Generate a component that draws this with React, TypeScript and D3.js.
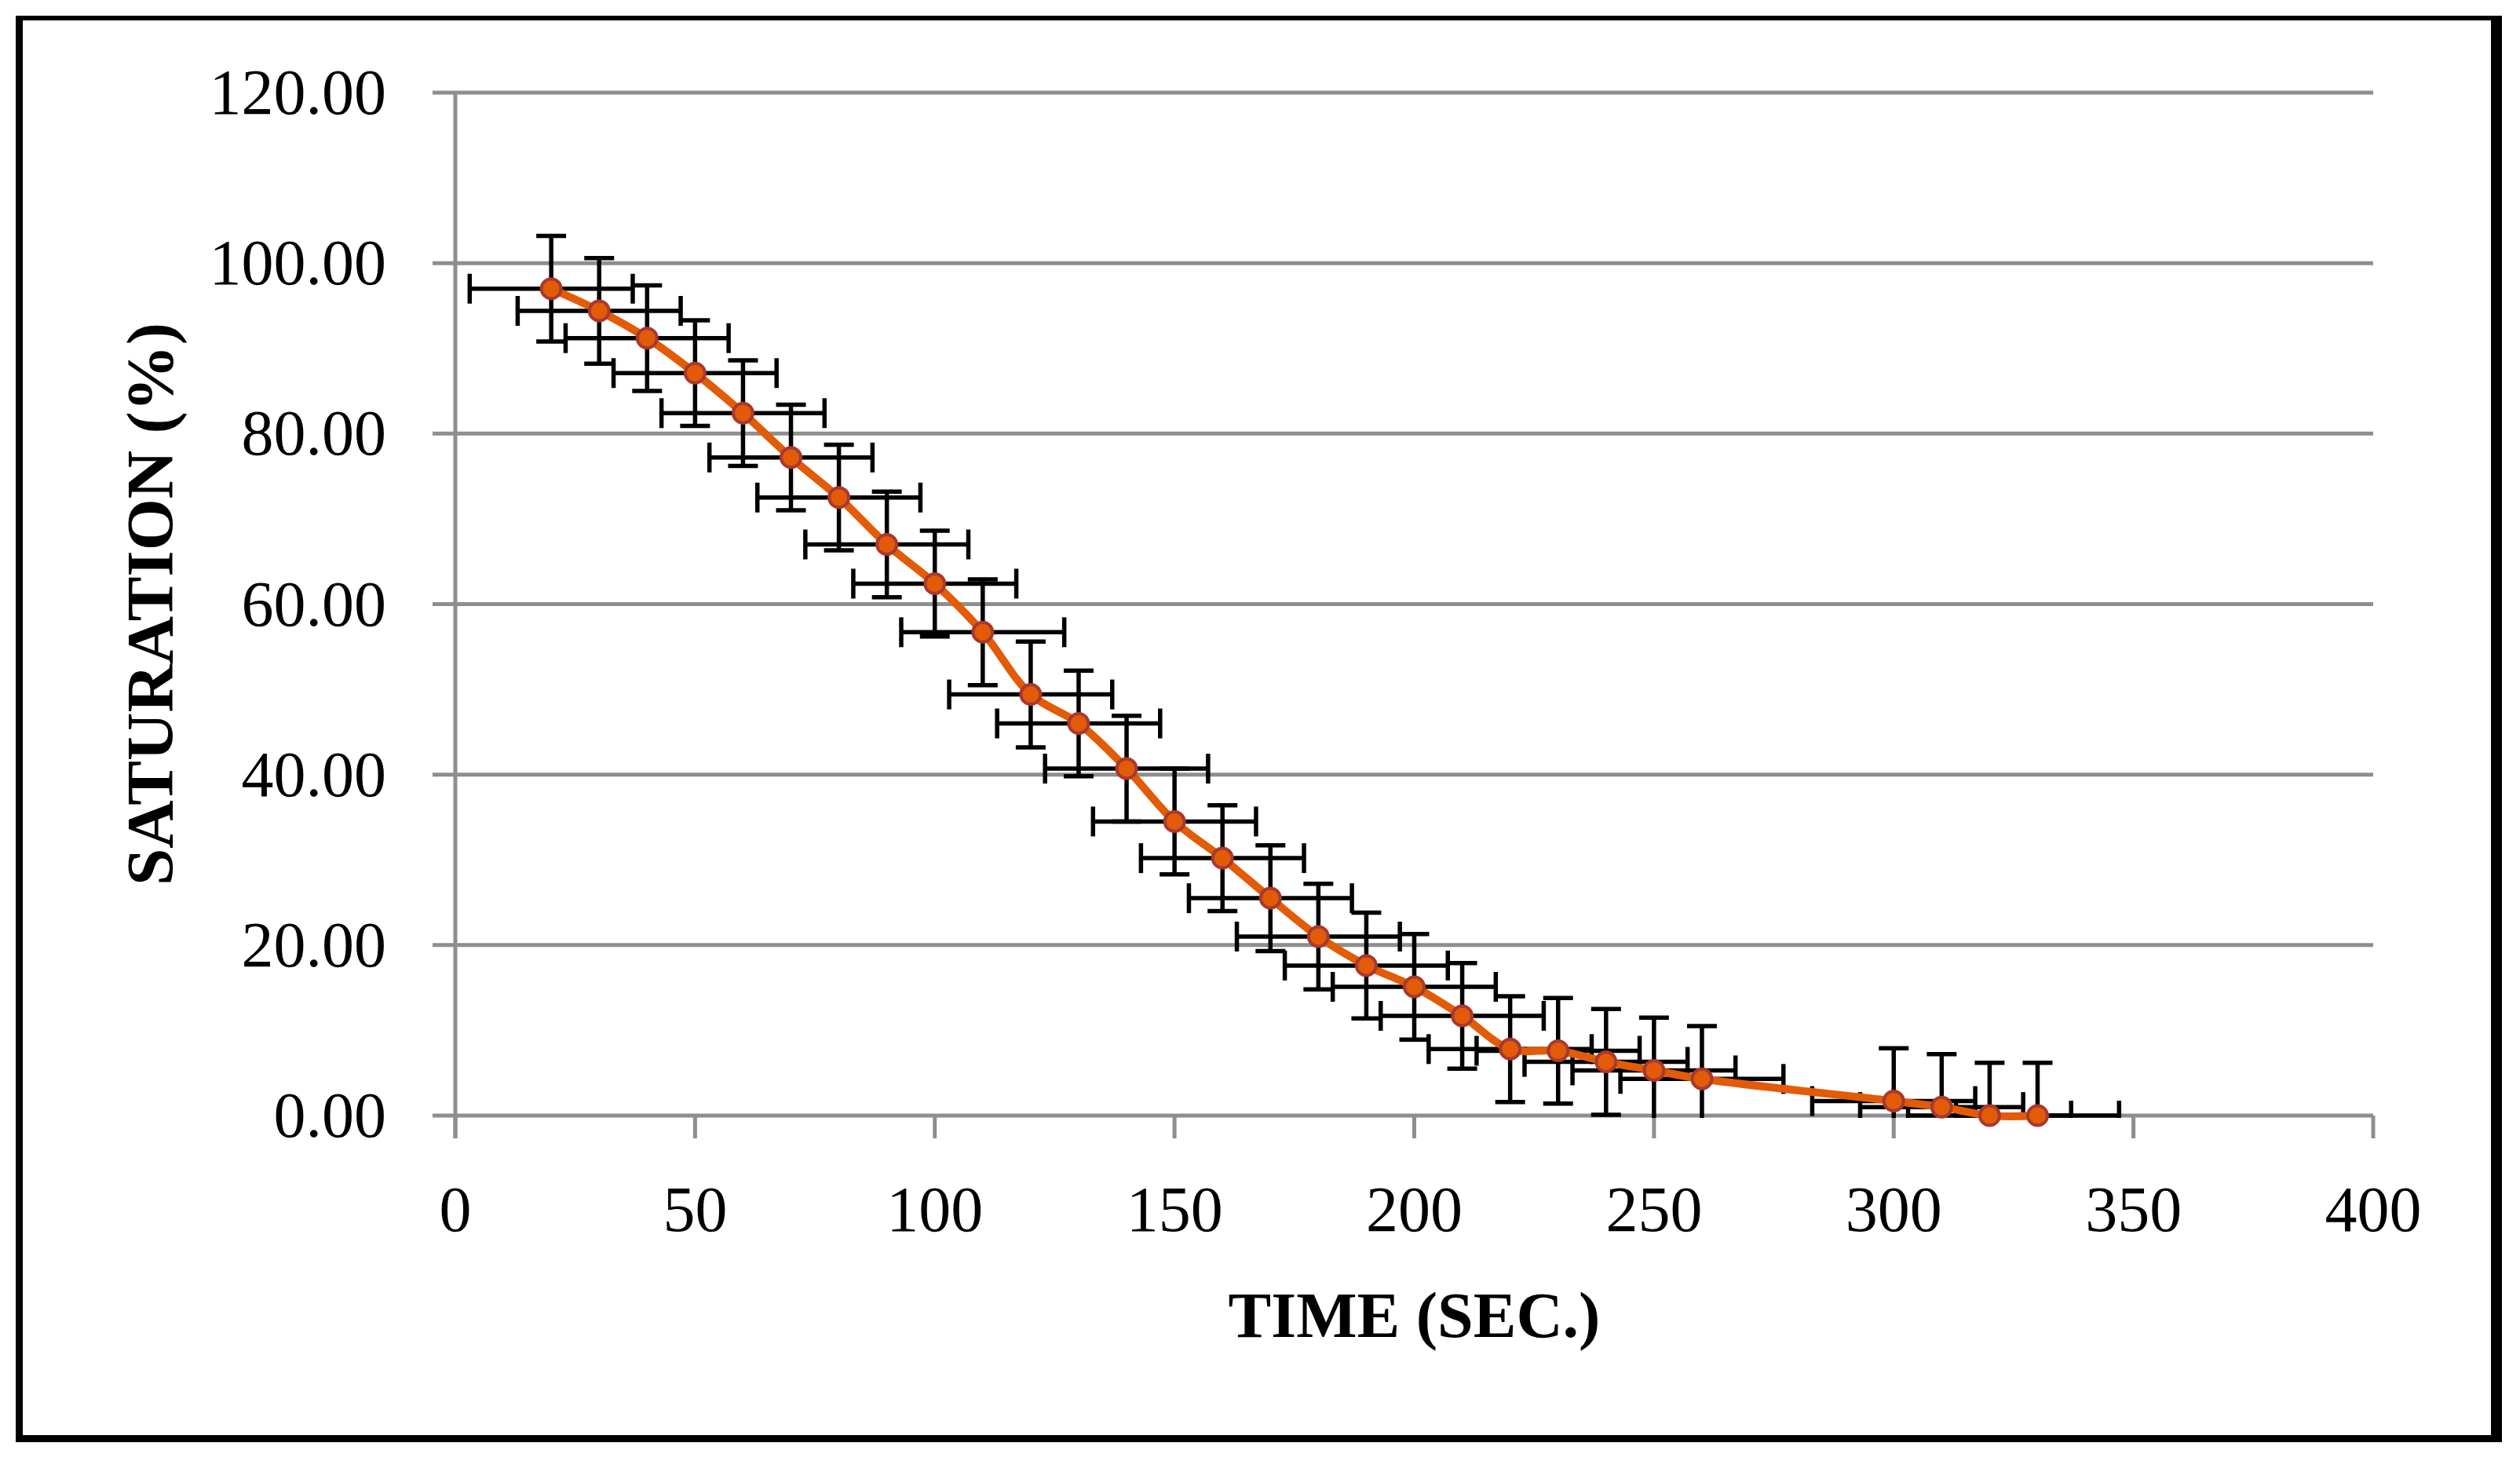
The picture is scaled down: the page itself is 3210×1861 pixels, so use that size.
import React from "react";
import * as d3 from "d3";

// ---- data ----
const timeSec = [20, 30, 40, 50, 60, 70, 80, 90, 100, 110, 120, 130, 140, 150, 160, 170, 180, 190, 200, 210, 220, 230, 240, 250, 260, 300, 310, 320, 330];
const saturation = [97.0, 94.4, 91.2, 87.1, 82.4, 77.2, 72.5, 67.0, 62.4, 56.7, 49.4, 46.0, 40.7, 34.5, 30.2, 25.5, 21.0, 17.6, 15.1, 11.7, 7.8, 7.6, 6.3, 5.3, 4.3, 1.7, 1.0, 0.0, 0.0];
const saturationErr = [6.2, 6.2, 6.2, 6.2, 6.2, 6.2, 6.2, 6.2, 6.2, 6.2, 6.2, 6.2, 6.2, 6.2, 6.2, 6.2, 6.2, 6.2, 6.2, 6.2, 6.2, 6.2, 6.2, 6.2, 6.2, 6.2, 6.2, 6.2, 6.2];
const timeErr = [17, 17, 17, 17, 17, 17, 17, 17, 17, 17, 17, 17, 17, 17, 17, 17, 17, 17, 17, 17, 17, 17, 17, 17, 17, 17, 17, 17, 17];
const xTickValues = [0, 50, 100, 150, 200, 250, 300, 350, 400];
const yTickValues = [0, 20, 40, 60, 80, 100, 120];
const xTitle = "TIME (SEC.)";
const yTitle = "SATURATION (%)";

const W = 3210;
const H = 1861;
const FONT = "'Liberation Serif', 'Times New Roman', serif";
const GRID = "#8e8e8e";
const ORANGE = "#e35b06";
const MARKER_EDGE = "#a83830";

export default function App() {
  const x = d3.scaleLinear().domain([0, 400]).range([580, 3023]);
  const y = d3.scaleLinear().domain([0, 120]).range([1421, 118]);
  const fmtY = d3.format(".2f");

  const pts = timeSec.map((t, i) => ({
    t,
    s: saturation[i],
    es: saturationErr[i],
    et: timeErr[i],
  }));

  const line = d3
    .line<{ t: number; s: number }>()
    .x((d) => x(d.t))
    .y((d) => y(d.s))
    .curve(d3.curveCatmullRom.alpha(0.5));

  const cap = 19;
  const tickLen = 29;
  const [x0, x1] = x.range();
  const [yb, yt] = y.range();

  return (
    <svg
      width={W}
      height={H}
      viewBox={`0 0 ${W} ${H}`}
      style={{ position: "absolute", left: 0, top: 0, background: "#fff" }}
    >
      <rect x={0} y={0} width={W} height={H} fill="#fff" />
      {/* outer frame */}
      <rect x={20} y={20} width={9} height={1817} fill="#000" />
      <rect x={20} y={20} width={3167} height={6} fill="#000" />
      <rect x={3173} y={20} width={14} height={1817} fill="#000" />
      <rect x={20} y={1828} width={3167} height={9} fill="#000" />

      <defs>
        <clipPath id="plotClip">
          <rect x={x0} y={yt} width={x1 - x0} height={yb - yt + 3} />
        </clipPath>
      </defs>

      {/* horizontal gridlines */}
      {yTickValues.map((v) => (
        <line
          key={"g" + v}
          x1={x0 - tickLen}
          x2={x1}
          y1={y(v)}
          y2={y(v)}
          stroke={GRID}
          strokeWidth={5}
        />
      ))}
      {/* y axis line */}
      <line x1={x0} x2={x0} y1={yt} y2={yb + tickLen} stroke={GRID} strokeWidth={5} />
      {/* x ticks */}
      {xTickValues.map((v) => (
        <line
          key={"xt" + v}
          x1={x(v)}
          x2={x(v)}
          y1={yb}
          y2={yb + tickLen}
          stroke={GRID}
          strokeWidth={5}
        />
      ))}

      {/* y tick labels */}
      {yTickValues.map((v) => (
        <text
          key={"yl" + v}
          x={492}
          y={y(v) + 27}
          textAnchor="end"
          fontFamily={FONT}
          fontSize={82}
          fill="#000"
        >
          {fmtY(v)}
        </text>
      ))}
      {/* x tick labels */}
      {xTickValues.map((v) => (
        <text
          key={"xl" + v}
          x={x(v)}
          y={yb + 147}
          textAnchor="middle"
          fontFamily={FONT}
          fontSize={82}
          fill="#000"
        >
          {v}
        </text>
      ))}

      {/* axis titles */}
      <text
        x={(x0 + x1) / 2}
        y={1703}
        textAnchor="middle"
        fontFamily={FONT}
        fontSize={82}
        fontWeight="bold"
        fill="#000"
      >
        {xTitle}
      </text>
      <text
        transform={`translate(220, ${(yt + yb) / 2}) rotate(-90)`}
        textAnchor="middle"
        fontFamily={FONT}
        fontSize={85}
        fontWeight="bold"
        fill="#000"
      >
        {yTitle}
      </text>

      {/* error bars */}
      <g clipPath="url(#plotClip)" stroke="#000" strokeWidth={5.5} fill="none">
        {pts.map((d, i) => {
          const cx = x(d.t);
          const cy = y(d.s);
          const yTop = y(d.s + d.es);
          const yBot = y(d.s - d.es);
          const xL = x(d.t - d.et);
          const xR = x(d.t + d.et);
          return (
            <g key={"e" + i}>
              <line x1={cx} x2={cx} y1={yTop} y2={yBot} />
              <line x1={cx - cap} x2={cx + cap} y1={yTop} y2={yTop} />
              <line x1={cx - cap} x2={cx + cap} y1={yBot} y2={yBot} />
              <line x1={xL} x2={xR} y1={cy} y2={cy} />
              <line x1={xL} x2={xL} y1={cy - cap} y2={cy + cap} />
              <line x1={xR} x2={xR} y1={cy - cap} y2={cy + cap} />
            </g>
          );
        })}
      </g>

      {/* series line */}
      <path
        d={line(pts) || ""}
        fill="none"
        stroke={ORANGE}
        strokeWidth={10}
        strokeLinejoin="round"
        strokeLinecap="round"
      />
      {/* markers */}
      {pts.map((d, i) => (
        <circle
          key={"m" + i}
          cx={x(d.t)}
          cy={y(d.s)}
          r={12.5}
          fill={ORANGE}
          stroke={MARKER_EDGE}
          strokeWidth={4}
        />
      ))}
    </svg>
  );
}
